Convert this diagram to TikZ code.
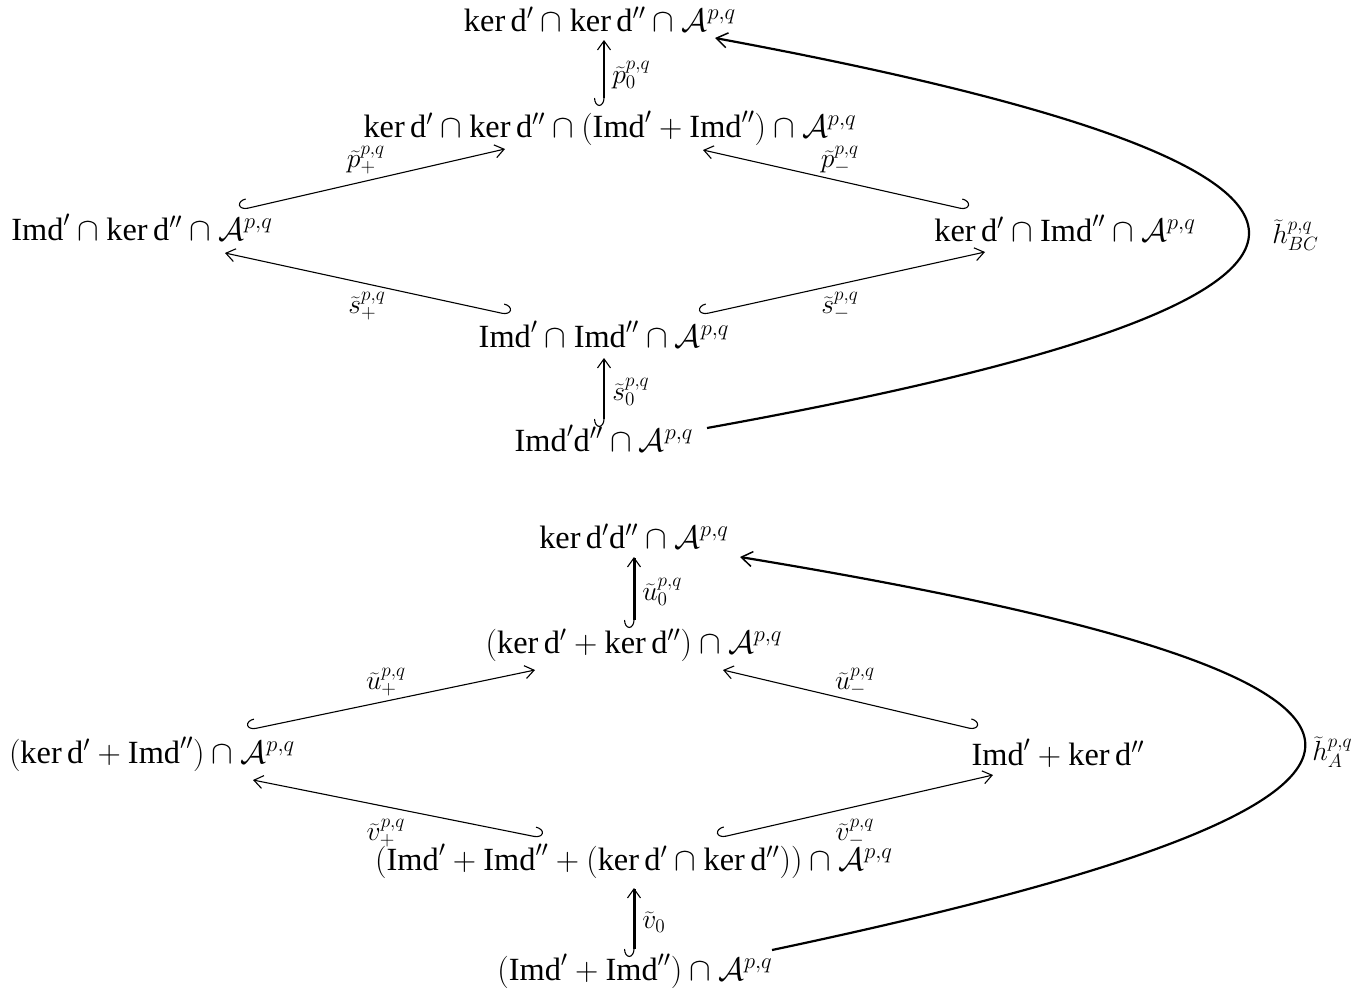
\documentclass[tikz,border=0pt]{standalone}
\usepackage{fontspec}
\setmainfont{Liberation Serif}
\usetikzlibrary{arrows.meta}
\newcommand{\Apq}{\mathcal{A}^{p,q}}
\newcommand{\dd}{\mathrm{d}}
\newcommand{\Imd}{\mathrm{Imd}}
\tikzset{
  obj/.style={anchor=base, inner sep=0pt, font=\huge, scale=1.56},
  lab/.style={inner sep=0pt, font=\LARGE, scale=1.6},
  tipbarb/.tip={Straight Barb[length=9pt,width=13pt,line width=1.1pt]},
  bigbarb/.tip={Straight Barb[length=11pt,width=15pt,line width=1.5pt]},
  hookl/.style={line width=1.1pt, {Hooks[right,arc=180,length=8pt,width=20pt,line width=1.1pt]}-tipbarb},
  hookr/.style={line width=1.1pt, {Hooks[left,arc=180,length=8pt,width=20pt,line width=1.1pt]}-tipbarb},
  vmid/.style={hookl, line width=1.8pt},
  vthick/.style={hookl, line width=3pt},
  curvearr/.style={line width=2.2pt, -bigbarb},
}
\begin{document}
\begin{tikzpicture}[x=1pt,y=-1pt]
\useasboundingbox (0,0) rectangle (1369,996);
% ---------- top diagram ----------
\node[obj] (n1) at (600,31) {$\ker\dd'\cap\ker\dd''\cap\Apq$};
\node[obj] (n2) at (610,137) {$\ker\dd'\cap\ker\dd''\cap(\Imd'+\Imd'')\cap\Apq$};
\node[obj] (n3) at (142,240) {$\Imd'\cap\ker\dd''\cap\Apq$};
\node[obj] (n4) at (1065,241) {$\ker\dd'\cap\Imd''\cap\Apq$};
\node[obj] (n5) at (604,347) {$\Imd'\cap\Imd''\cap\Apq$};
\node[obj] (n6) at (604,451) {$\Imd'\dd''\cap\Apq$};
\coordinate (p0s) at (604,106); \coordinate (p0e) at (604,40);
\coordinate (pps) at (240,210); \coordinate (ppe) at (505,149);
\coordinate (pms) at (968,210); \coordinate (pme) at (703,150);
\coordinate (sps) at (510,315); \coordinate (spe) at (225,253);
\coordinate (sms) at (700,315); \coordinate (sme) at (985,252);
\coordinate (s0s) at (604,427); \coordinate (s0e) at (604,358);
\coordinate (hbs) at (707,428); \coordinate (hbe) at (715,38);
\draw[vmid] (p0s) -- (p0e);
\draw[hookl] (pps) -- (ppe);
\draw[hookr] (pms) -- (pme);
\draw[hookr] (sps) -- (spe);
\draw[hookl] (sms) -- (sme);
\draw[vmid] (s0s) -- (s0e);
\draw[curvearr] (hbs) .. controls (1428,298) and (1428,170) .. (hbe);
\node[lab, anchor=west] (lp0) at (612,75) {$\widetilde{p}^{p,q}_{0}$};
\node[lab] (lpp) at (366,160) {$\widetilde{p}^{p,q}_{+}$};
\node[lab] (lpm) at (840,160) {$\widetilde{p}^{p,q}_{-}$};
\node[lab] (lsp) at (367,306) {$\widetilde{s}^{p,q}_{+}$};
\node[lab] (lsm) at (840,306) {$\widetilde{s}^{p,q}_{-}$};
\node[lab, anchor=west] (ls0) at (612,392) {$\widetilde{s}^{p,q}_{0}$};
\node[lab, anchor=west] (lhb) at (1272,235) {$\widetilde{h}^{p,q}_{BC}$};
% ---------- bottom diagram ----------
\node[obj] (m1) at (634,548) {$\ker\dd'\dd''\cap\Apq$};
\node[obj] (m2) at (634,653) {$(\ker\dd'+\ker\dd'')\cap\Apq$};
\node[obj] (m3) at (152,763) {$(\ker\dd'+\Imd'')\cap\Apq$};
\node[obj] (m4) at (1058,765) {$\Imd'+\ker\dd''$};
\node[obj] (m5) at (634,870) {$(\Imd'+\Imd''+(\ker\dd'\cap\ker\dd''))\cap\Apq$};
\node[obj] (m6) at (635,980) {$(\Imd'+\Imd'')\cap\Apq$};
\coordinate (u0s) at (634,628); \coordinate (u0e) at (634,557);
\coordinate (ups) at (248,730); \coordinate (upe) at (535,670);
\coordinate (ums) at (977,730); \coordinate (ume) at (723,670);
\coordinate (vps) at (542,838); \coordinate (vpe) at (253,780);
\coordinate (vms) at (718,838); \coordinate (vme) at (993,775);
\coordinate (v0s) at (634,957); \coordinate (v0e) at (634,888);
\coordinate (has) at (772,950); \coordinate (hae) at (740,557);
\draw[vthick] (u0s) -- (u0e);
\draw[hookl] (ups) -- (upe);
\draw[hookr] (ums) -- (ume);
\draw[hookr] (vps) -- (vpe);
\draw[hookl] (vms) -- (vme);
\draw[vthick] (v0s) -- (v0e);
\draw[curvearr] (has) .. controls (1488,799) and (1488,680) .. (hae);
\node[lab, anchor=west] (lu0) at (642,592) {$\widetilde{u}^{p,q}_{0}$};
\node[lab] (lup) at (386,682) {$\widetilde{u}^{p,q}_{+}$};
\node[lab] (lum) at (855,682) {$\widetilde{u}^{p,q}_{-}$};
\node[lab] (lvp) at (386,833) {$\widetilde{v}^{p,q}_{+}$};
\node[lab] (lvm) at (855,833) {$\widetilde{v}^{p,q}_{-}$};
\node[lab, anchor=west] (lv0) at (642,922) {$\widetilde{v}_{0}$};
\node[lab, anchor=west] (lha) at (1312,752) {$\widetilde{h}^{p,q}_{A}$};
\end{tikzpicture}
\end{document}
